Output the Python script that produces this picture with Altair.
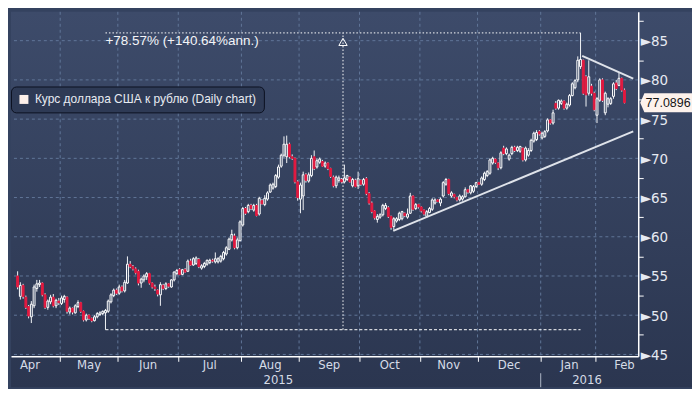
import altair as alt
import pandas as pd

# ---- daily candles (USD/RUB) ----
opens = [55.0,52.4,53.8,52.3,51.1,49.8,51.2,53.4,53.9,54.1,52.6,51.0,51.7,52.3,51.2,51.8,
 51.5,52.0,52.3,50.4,50.9,50.3,51.1,51.6,50.5,49.4,50.0,49.6,49.3,49.8,50.1,50.2,50.3,50.5,51.7,52.5,53.2,
 52.8,53.6,53.1,54.1,56.5,56.2,55.9,55.6,54.1,54.5,54.9,55.3,54.1,53.6,53.2,52.6,53.8,53.4,54.0,53.6,54.5,55.3,
 55.8,55.2,55.8,55.6,56.9,56.4,56.6,57.1,56.0,56.2,56.5,56.7,57.0,56.8,56.8,56.9,57.2,57.8,58.4,59.6,60.1,58.6,59.5,
 61.5,63.6,63.2,64.0,63.4,64.0,62.9,64.6,64.1,64.8,65.7,66.2,66.4,67.6,69.0,70.4,70.2,71.8,70.2,70.0,67.0,
 64.8,65.2,67.9,67.1,67.8,70.2,68.9,69.5,69.6,69.0,69.4,68.7,67.6,66.5,67.2,67.3,67.0,67.3,67.6,66.5,67.2,66.5,
 67.2,66.7,67.4,65.5,64.3,63.3,62.2,62.5,62.8,63.6,63.7,62.6,61.3,62.0,62.2,62.3,63.0,62.5,63.0,65.2,63.6,64.1,
 63.8,63.4,62.6,63.1,63.5,64.3,64.7,64.3,65.2,66.7,67.3,65.2,65.4,65.0,64.7,64.8,65.1,66.0,65.6,65.8,66.4,
 66.9,66.7,67.3,67.8,68.1,69.4,69.9,69.4,68.8,71.3,70.6,69.9,70.6,71.4,71.0,70.9,71.3,69.8,70.4,71.0,72.2,72.4,73.4,
 72.6,72.8,73.5,74.9,74.5,77.0,76.4,77.0,77.3,76.4,76.8,78.0,79.0,80.0,81.7,82.5,80.4,78.3,79.2,78.3,
 75.5,77.4,80.0,75.8,76.9,77.0,77.9,79.6,79.3,80.2,78.7]
highs = [55.6,54.2,54.0,52.5,51.3,51.8,53.9,54.5,54.5,54.2,52.8,52.0,52.6,52.7,52.1,52.2,
 52.5,52.6,52.4,51.1,51.0,51.4,51.9,51.7,50.6,50.2,50.1,49.7,50.0,50.4,50.5,50.6,50.8,52.0,52.8,53.4,53.4,
 53.9,53.8,54.5,57.5,56.9,56.4,56.1,55.8,54.8,55.2,55.5,55.4,54.2,53.9,53.3,54.2,54.0,54.2,54.1,54.6,55.6,55.9,
 56.0,55.9,56.0,57.1,57.2,57.4,57.5,57.3,56.5,56.8,57.1,57.2,57.2,58.0,57.4,57.7,58.2,58.8,59.9,60.9,60.4,59.9,62.1,
 63.8,63.8,64.2,64.2,64.2,64.2,65.1,64.8,65.3,65.8,66.8,66.9,68.0,69.2,70.6,72.8,72.9,72.0,70.5,70.1,67.2,
 66.9,68.3,68.1,68.2,70.4,71.0,70.0,70.1,69.8,69.6,69.5,68.8,67.8,67.8,67.8,67.5,69.2,67.9,67.7,67.5,67.4,68.3,
 67.3,67.5,67.6,65.7,64.5,63.4,62.9,63.0,64.2,64.3,63.9,62.7,62.5,62.5,63.2,63.3,63.1,63.6,65.6,65.3,64.3,64.2,
 63.9,63.5,63.4,63.8,64.9,64.9,64.8,65.0,67.1,67.5,67.4,65.8,65.5,65.1,65.4,65.3,66.3,66.1,66.6,66.6,67.0,
 67.0,67.7,68.3,68.5,70.0,70.2,70.0,69.5,70.9,71.6,71.4,70.6,71.6,71.6,71.6,71.6,71.4,71.5,71.3,72.5,73.4,73.6,73.6,
 73.4,73.6,75.1,75.0,76.2,77.3,77.5,77.5,77.4,77.1,78.2,79.7,80.1,83.0,85.99,82.6,80.6,82.5,79.5,78.5,
 77.8,80.2,80.2,78.5,77.8,77.8,79.7,80.0,80.9,80.3,78.9]
lows = [53.3,52.0,52.1,50.8,49.6,49.0,50.9,53.0,53.6,52.4,50.8,50.7,51.4,51.0,50.9,51.3,
 51.3,51.6,50.2,50.1,50.1,50.2,50.9,50.3,49.2,49.2,49.4,49.1,49.2,49.6,49.9,50.0,48.15,50.3,51.5,52.3,52.6,
 52.6,52.9,52.9,54.0,56.0,55.7,55.2,53.8,53.5,54.2,54.5,53.9,53.4,53.1,52.4,51.2,53.2,53.2,53.5,53.5,54.3,55.1,
 55.1,55.1,55.4,55.5,56.3,56.3,56.4,56.0,55.8,56.0,56.3,56.5,56.7,56.6,56.6,56.7,57.0,57.6,58.3,59.4,58.4,58.4,59.4,
 61.3,62.8,63.0,63.4,63.2,62.6,62.7,64.1,63.9,64.6,65.6,66.0,66.2,67.4,68.8,70.1,69.4,70.0,69.8,66.8,64.6,
 63.0,63.4,66.9,66.9,67.6,68.5,68.7,69.3,68.9,68.8,68.5,67.5,66.3,66.2,66.9,66.8,66.8,67.1,66.9,66.3,66.3,66.1,
 66.5,66.5,65.3,64.1,63.0,62.2,61.8,62.3,62.6,63.4,62.4,60.9,60.9,61.8,62.0,62.1,62.5,62.3,62.9,63.3,63.4,63.6,
 63.1,62.7,62.4,63.0,63.3,64.1,64.4,63.9,65.0,66.5,65.3,65.0,64.9,64.5,64.5,64.6,65.0,65.5,65.4,65.6,66.2,
 66.6,66.5,67.1,67.6,67.9,69.2,69.3,68.5,68.6,70.4,70.4,69.7,70.4,70.8,70.8,70.7,69.6,69.6,70.2,70.8,72.0,72.2,72.9,
 72.4,72.6,73.3,74.3,74.3,76.2,76.2,76.8,76.2,76.2,76.6,77.9,78.8,79.7,81.4,78.1,76.6,78.0,78.0,76.0,
 74.5,77.2,77.2,75.5,76.5,76.8,77.6,78.7,79.2,78.5,77.0]
closes = [53.6,53.8,52.4,51.0,49.9,51.4,53.6,54.0,54.1,52.6,51.0,51.8,52.3,51.2,51.9,51.6,
 52.2,52.4,50.5,50.9,50.4,51.2,51.6,50.5,49.4,50.0,49.6,49.3,49.8,50.2,50.3,50.5,50.6,51.8,52.6,53.2,52.8,
 53.6,53.1,54.2,56.5,56.2,55.9,55.4,54.1,54.6,55.0,55.3,54.1,53.6,53.4,52.7,53.9,53.4,54.0,53.7,54.5,55.5,55.7,
 55.2,55.8,55.5,56.9,56.4,57.2,57.3,56.2,56.3,56.6,57.0,57.0,56.9,57.2,57.2,57.5,58.0,58.6,59.7,60.3,58.6,59.6,61.9,
 63.6,63.0,64.0,63.6,64.0,62.7,64.9,64.2,64.9,65.6,66.6,66.7,67.8,68.9,70.4,71.8,71.8,70.2,70.0,67.0,65.0,
 66.6,67.9,67.2,67.9,70.0,68.7,69.7,69.9,69.0,69.4,68.7,67.7,66.5,67.6,67.5,67.0,67.5,67.8,67.0,67.3,66.4,67.4,
 66.7,67.3,65.5,64.3,63.2,62.4,62.6,62.8,64.0,64.0,62.6,61.2,62.3,62.3,63.0,63.2,62.7,62.9,65.2,63.5,64.1,63.8,
 63.3,62.9,63.2,63.6,64.7,64.7,64.5,64.8,66.9,67.3,65.5,65.6,65.1,64.7,65.2,65.1,66.0,65.7,66.5,66.4,66.9,
 66.7,67.5,68.1,68.3,69.8,70.0,69.5,68.8,70.7,70.6,71.2,70.4,71.4,71.0,71.4,71.5,69.8,71.3,71.0,72.3,73.2,73.3,73.1,
 73.2,73.4,74.9,74.5,75.8,76.4,77.4,77.3,76.4,76.9,78.0,79.5,79.9,82.5,82.6,78.3,78.1,80.4,78.3,76.2,
 77.6,80.0,77.4,78.3,77.6,77.6,79.5,78.9,80.2,78.7,77.0896]

# ---- axis categories ----
month_names = ["Apr", "May", "Jun", "Jul", "Aug", "Sep", "Oct", "Nov", "Dec", "Jan", "Feb"]
month_shown = [16, 21, 22, 23, 21, 22, 22, 21, 23, 20, 11]   # trading days drawn per month
month_full = [22, 21, 22, 23, 21, 22, 22, 21, 23, 21, 21]    # trading days in the whole month
year_names = ["2015", "2016"]
year_month_count = [9, 2]
y_tick_values = [45, 47.5, 50, 52.5, 55, 57.5, 60, 62.5, 65, 67.5, 70, 72.5, 75, 77.5, 80, 82.5, 85, 87.5]

# ---- annotations ----
series_name = "Курс доллара США к рублю (Daily chart)"
move_label = "+78.57% (+140.64%ann.)"
support_x = [136.8, 224.2]
support_y = [60.75, 73.44]
resist_x = [205.6, 224.2]
resist_y = [83.06, 80.17]

# ---- layout / style ----
W, H = 630, 346
TOTAL_W, TOTAL_H = 684, 377
X_DOM = [-0.6, 224.2]
Y_DOM = [44.76, 88.68]
BG = "#34425f"
BG_TOP = "#3d4b6a"
BG_BOTTOM = "#2b3650"
RED = "#e2193f"
UP_FILL = "#35435f"
WICK = "#f2f4f7"
GRID = "#617698"
LBL = "#d6dce7"
NARROW = "Liberation Sans Narrow, DejaVu Sans Condensed, sans-serif"
REG = "Liberation Sans, Arial, sans-serif"

df = pd.DataFrame({"i": list(range(len(closes))), "o": opens, "h": highs, "l": lows, "c": closes})

# month boundaries and label centres
starts = []
s = 0
for n in month_shown:
    starts.append(s)
    s += n
boundaries = [st - 0.5 for st in starts[1:]]
centers = []
for k, (st, n, full) in enumerate(zip(starts, month_shown, month_full)):
    if k == 0:
        centers.append(st + n - 1 - (full - 1) / 2)
    else:
        centers.append(st + (full - 1) / 2)
months_df = pd.DataFrame({"name": month_names, "center": centers})
year_break = boundaries[year_month_count[0] - 1]
years_df = pd.DataFrame({"name": year_names,
                         "center": [(X_DOM[0] + year_break) / 2, (year_break + X_DOM[1]) / 2]})

low_idx = lows.index(min(lows))
high_idx = highs.index(max(highs))
low_val, high_val = min(lows), max(highs)
mid_idx = (low_idx + high_idx) / 2

x_scale = alt.Scale(domain=X_DOM, nice=False, zero=False)
y_scale = alt.Scale(domain=Y_DOM, nice=False, zero=False)

x_axis = alt.Axis(values=boundaries, labels=False, title=None, domainColor="white", domainWidth=1.5,
                  tickColor="white", tickSize=5, grid=False, zindex=1)
y_axis = alt.Axis(orient="right", values=y_tick_values, title=None,
                  labelExpr="datum.value % 5 == 0 ? '►' + datum.label : ''",
                  labelFont=NARROW, labelFontSize=15, labelColor="#e6eaf2", labelPadding=-3,
                  domainColor="white", domainWidth=1.5, tickColor="white", tickSize=5,
                  tickOpacity={"condition": {"test": "datum.value % 5 == 0", "value": 0}, "value": 1},
                  grid=False, zindex=1)


def X(field):
    return alt.X(field, scale=x_scale, axis=x_axis)


def Y(field):
    return alt.Y(field, scale=y_scale, axis=y_axis)


bg = alt.Chart(alt.Data(values=[{"a": 1}])).mark_rect(
    color=alt.LinearGradient(gradient="linear",
                             stops=[alt.GradientStop(color=BG_TOP, offset=0),
                                    alt.GradientStop(color=BG_BOTTOM, offset=1)],
                             x1=0, x2=0, y1=0, y2=1)
).encode(x=alt.value(0), x2=alt.value(TOTAL_W), y=alt.value(0), y2=alt.value(TOTAL_H))

# grid lines: horizontal every 5, vertical at month boundaries
hgrid_df = pd.DataFrame({"y": [v for v in y_tick_values if v % 5 == 0]})
hgrid = alt.Chart(hgrid_df).mark_rule(color=GRID, strokeWidth=1, strokeDash=[3, 3]).encode(y=Y("y:Q"))
vgrid_df = pd.DataFrame({"x": boundaries})
vgrid = alt.Chart(vgrid_df).mark_rule(color=GRID, strokeWidth=1, strokeDash=[3, 3]).encode(x=X("x:Q"))

wicks = alt.Chart(df).mark_rule(color=WICK, strokeWidth=1).encode(x=X("i:Q"), y=Y("l:Q"), y2="h:Q")

bodies = alt.Chart(df).mark_bar(size=1.9, strokeWidth=1, orient="vertical").encode(
    x=X("i:Q"), y=Y("o:Q"), y2="c:Q",
    fill=alt.when("datum.c >= datum.o").then(alt.value(UP_FILL)).otherwise(alt.value(RED)),
    stroke=alt.when("datum.c >= datum.o").then(alt.value("white")).otherwise(alt.value(RED)),
)

dotted_df = pd.DataFrame({"x": [low_idx, mid_idx], "x2": [high_idx, mid_idx],
                          "y": [high_val, low_val], "y2": [high_val, high_val]})
dotted = alt.Chart(dotted_df).mark_rule(color="white", strokeWidth=1, strokeDash=[1.5, 2]).encode(
    x=X("x:Q"), x2="x2:Q", y=Y("y:Q"), y2="y2:Q")

dashed_df = pd.DataFrame({"x": [low_idx], "x2": [high_idx], "y": [low_val]})
dashed = alt.Chart(dashed_df).mark_rule(color="white", strokeWidth=1, strokeDash=[3, 2]).encode(
    x=X("x:Q"), x2="x2:Q", y=Y("y:Q"))

arrow_df = pd.DataFrame({"x": [mid_idx], "y": [high_val]})
arrow = alt.Chart(arrow_df).mark_point(shape="triangle-up", filled=False, color="white", size=70,
                                       strokeWidth=1, yOffset=9, opacity=1).encode(x=X("x:Q"), y=Y("y:Q"))

move_df = pd.DataFrame({"x": [low_idx], "y": [high_val], "t": [move_label]})
move_text = alt.Chart(move_df).mark_text(align="left", baseline="middle", dy=8, dx=0,
                                         font=REG, fontSize=13.5, color="#f4f5f8").encode(
    x=X("x:Q"), y=Y("y:Q"), text="t:N")

trend_df = pd.DataFrame({"id": ["s", "s", "r", "r"], "x": support_x + resist_x, "y": support_y + resist_y})
trend = alt.Chart(trend_df).mark_line(color="#dfe3ea", strokeWidth=2).encode(
    x=X("x:Q"), y=Y("y:Q"), detail="id:N")

last_df = pd.DataFrame({"v": [closes[-1]]})
tag = alt.Chart(last_df).mark_point(
    shape="M-1,0L-0.84,-0.37L1,-0.37L1,0.37L-0.84,0.37Z", size=2704, filled=True,
    fill="#fdf2ec", strokeWidth=0, opacity=1).encode(x=alt.value(W + 28), y=Y("v:Q"))
tag_text = alt.Chart(last_df).mark_text(font=REG, fontSize=12.5, color="#151515",
                                        align="center", baseline="middle").encode(
    x=alt.value(W + 30), y=Y("v:Q"), text=alt.Text("v:Q", format=".4f"))

legend_layer = alt.Chart(alt.Data(values=[{"s": series_name}])).mark_square(opacity=0).encode(
    x=alt.value(0), y=alt.value(0),
    color=alt.Color("s:N", scale=alt.Scale(domain=[series_name], range=["#fdf0ea"]),
                    legend=alt.Legend(orient="none", legendX=0, legendY=75, title=None,
                                      symbolType="square", symbolSize=81, symbolOpacity=1,
                                      symbolStrokeWidth=0, labelFont=REG, labelFontSize=12,
                                      labelColor="#e8ebf2", labelLimit=400, labelOffset=5,
                                      fillColor="#2e3a55", strokeColor="#0c1120",
                                      cornerRadius=5, padding=7)))

month_text = alt.Chart(months_df).mark_text(font=NARROW, fontSize=13, color=LBL,
                                            baseline="middle", align="center").encode(
    x=X("center:Q"), y=alt.value(H + 9), text="name:N")
year_text = alt.Chart(years_df).mark_text(font=NARROW, fontSize=13, color=LBL,
                                          baseline="middle", align="center").encode(
    x=X("center:Q"), y=alt.value(H + 24), text="name:N")
sep = alt.Chart(pd.DataFrame({"x": [year_break]})).mark_rule(color="#aeb6c6", strokeWidth=1).encode(
    x=X("x:Q"), y=alt.value(H + 17), y2=alt.value(H + 31))

chart = alt.layer(
    bg, hgrid, vgrid, wicks, bodies, dotted, dashed, arrow, move_text, trend, tag, tag_text,
    legend_layer, month_text, year_text, sep
).properties(width=W, height=H, padding=0).configure(background=BG).configure_view(strokeWidth=0)

chart.save("out.html", embed_options={"renderer": "svg", "actions": False})
